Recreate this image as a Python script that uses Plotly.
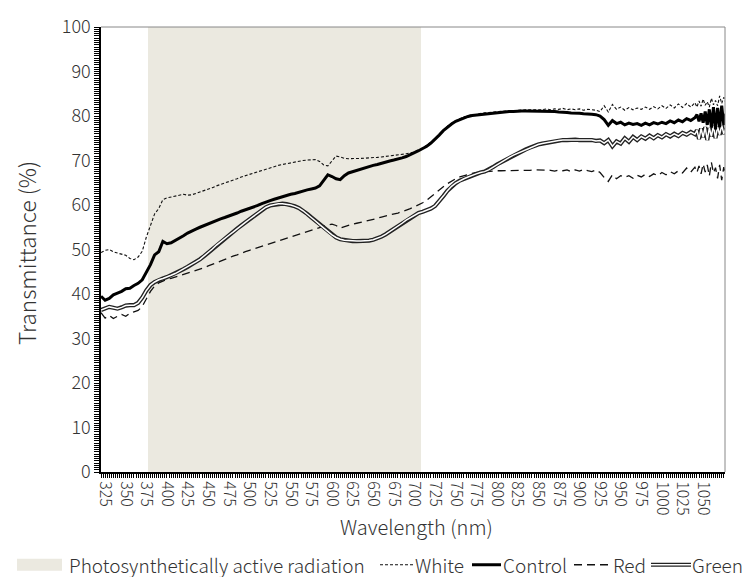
import plotly.graph_objects as go

# ---------------- data ----------------
wavelength = list(range(320, 1041, 5)) + [1042.5, 1045, 1047.5, 1050, 1052.5, 1055, 1057.5, 1060,
                                          1062.5, 1065, 1067.5, 1070, 1072.5, 1075, 1077.5]

control = [
    39.5, 38.6, 39.0, 39.8, 40.2, 40.6, 41.2, 41.3, 41.9, 42.4,   # 320-365
    43.2, 44.8, 46.6, 48.8, 49.5, 51.8, 51.3, 51.5, 52.0, 52.5,   # 370-415
    53.1, 53.7, 54.2, 54.6, 55.0, 55.4, 55.8, 56.2, 56.6, 56.9,   # 420-465
    57.2, 57.5, 57.9, 58.2, 58.6, 58.9, 59.3, 59.6, 59.9, 60.3,   # 470-515
    60.7, 61.0, 61.3, 61.6, 61.9, 62.1, 62.4, 62.6, 62.9, 63.1,   # 520-565
    63.4, 63.6, 63.8, 64.3, 65.6, 66.8, 66.4, 65.9, 65.7, 66.6,   # 570-615
    67.2, 67.5, 67.8, 68.1, 68.4, 68.6, 68.9, 69.1, 69.4, 69.6,   # 620-665
    69.9, 70.1, 70.3, 70.6, 70.9, 71.3, 71.7, 72.2, 72.7, 73.2,   # 670-715
    73.9, 74.7, 75.7, 76.7, 77.5, 78.2, 78.8, 79.2, 79.6, 79.9,   # 720-765
    80.1, 80.2, 80.4, 80.5, 80.6, 80.7, 80.7, 80.8, 80.9, 81.0,   # 770-815
    81.0, 81.1, 81.1, 81.1, 81.1, 81.1, 81.1, 81.1, 81.0, 81.0,   # 820-865
    81.0, 80.9, 80.9, 80.8, 80.7, 80.7, 80.6, 80.5, 80.5, 80.4,   # 870-915
    80.3, 80.0, 79.2, 77.9, 79.0, 78.3, 78.6, 78.0, 78.4, 78.1,   # 920-965
    78.3, 77.9, 78.4, 78.0, 78.5, 78.2, 78.6, 78.3, 78.9, 78.5,   # 970-1015
    79.1, 78.7, 79.4, 79.0, 79.6,                                 # 1020-1040
    80.3, 78.8, 80.6, 78.5, 81.0, 78.0, 81.5, 77.4, 82.0, 77.0, 81.8, 77.5, 82.3, 78.0, 80.5,
]

white = [
    49.3, 49.8, 50.0, 49.5, 49.2, 48.9, 48.7, 48.0, 47.7, 48.3,
    49.6, 52.8, 55.6, 58.0, 59.2, 61.2, 61.6, 61.8, 62.0, 62.2,
    62.4, 62.2, 62.3, 62.6, 62.9, 63.2, 63.5, 63.9, 64.3, 64.6,
    65.0, 65.3, 65.6, 65.9, 66.3, 66.6, 66.9, 67.2, 67.5, 67.8,
    68.1, 68.4, 68.6, 68.9, 69.1, 69.3, 69.5, 69.7, 69.9, 70.0,
    70.1, 70.2, 70.2, 69.8, 69.0, 68.8, 69.8, 71.0, 70.8, 70.5,
    70.4, 70.4, 70.4, 70.5, 70.5, 70.6, 70.6, 70.7, 70.8, 70.9,
    71.0, 71.1, 71.2, 71.4, 71.5, 71.7, 71.9, 72.3, 72.8, 73.5,
    74.2, 74.9, 75.9, 76.9, 77.7, 78.4, 79.0, 79.4, 79.8, 80.1,
    80.3, 80.4, 80.6, 80.7, 80.8, 80.9, 80.9, 81.0, 81.1, 81.2,
    81.2, 81.3, 81.3, 81.4, 81.4, 81.4, 81.5, 81.4, 81.6, 81.4,
    81.6, 81.5, 81.7, 81.4, 81.6, 81.4, 81.6, 81.3, 81.5, 81.4,
    81.3, 81.0, 82.3, 80.9, 82.6, 81.5, 82.0, 81.3, 81.9, 81.4,
    81.8, 81.5, 82.0, 81.5, 82.1, 81.6, 82.3, 81.7, 82.5, 81.8,
    82.7, 81.9, 82.8, 82.0, 83.0,
    82.0, 83.4, 82.2, 83.8, 82.4, 83.2, 82.0, 84.0, 82.5, 83.5, 82.3, 84.5, 82.8, 84.2, 83.0,
]

red = [
    35.8, 34.6, 35.2, 34.5, 35.0, 35.4, 35.0, 35.7, 36.0, 36.3,
    37.2, 38.8, 40.6, 41.8, 42.5, 42.9, 43.3, 43.5, 43.8, 44.0,
    44.3, 44.6, 44.9, 45.2, 45.6, 45.9, 46.3, 46.6, 47.0, 47.4,
    47.8, 48.1, 48.5, 48.8, 49.2, 49.5, 49.8, 50.1, 50.4, 50.7,
    51.0, 51.3, 51.6, 51.9, 52.3, 52.6, 52.9, 53.2, 53.5, 53.8,
    54.1, 54.4, 54.7, 54.9, 55.2, 55.5, 55.7, 55.4, 54.8, 55.1,
    55.5, 55.7, 55.9, 56.1, 56.3, 56.6, 56.8, 57.0, 57.3, 57.5,
    57.7, 58.0, 58.2, 58.5, 58.8, 59.2, 59.6, 60.0, 60.5, 61.1,
    61.9, 62.6, 63.4, 64.1, 64.8, 65.4, 65.9, 66.3, 66.6, 66.9,
    67.1, 67.3, 67.4, 67.5, 67.6, 67.6, 67.7, 67.7, 67.7, 67.8,
    67.8, 67.8, 67.8, 67.8, 67.8, 67.9, 67.9, 67.9, 67.8, 67.8,
    67.6, 67.9, 67.7, 67.9, 67.5, 67.9, 67.6, 68.0, 67.7, 67.5,
    67.9, 67.3, 66.2, 65.3, 66.8, 65.9, 66.6, 66.2, 66.6, 66.0,
    66.7, 66.3, 66.9, 66.4, 67.0, 66.6, 67.3, 66.8, 67.5, 67.0,
    67.7, 67.2, 68.3, 67.4, 68.5,
    67.3, 68.8, 67.0, 69.2, 67.4, 69.0, 66.5, 69.6, 67.2, 68.4, 66.0, 69.0, 65.6, 68.5, 66.5,
]

green = [
    36.4, 36.8, 37.1, 36.9, 36.7, 37.0, 37.4, 37.5, 37.5, 38.0,
    39.2, 40.8, 42.0, 42.7, 43.2, 43.5, 43.8, 44.2, 44.6, 45.1,
    45.6, 46.1, 46.6, 47.2, 47.8, 48.5, 49.3, 50.1, 51.0, 51.8,
    52.5, 53.2, 53.9, 54.7, 55.4, 56.1, 56.8, 57.5, 58.2, 58.9,
    59.5, 59.9, 60.1, 60.3, 60.3, 60.2, 60.0, 59.7, 59.3, 58.7,
    58.0, 57.2, 56.4, 55.6, 54.8, 54.0, 53.3, 52.7, 52.3, 52.1,
    52.0, 51.9, 51.9, 51.9, 51.9, 52.0, 52.2, 52.5, 52.9, 53.4,
    54.0, 54.6, 55.3, 55.9, 56.6, 57.2, 57.8, 58.2, 58.5, 58.8,
    59.2, 59.8, 60.8, 62.0, 63.2, 64.2, 64.9, 65.5, 65.9, 66.3,
    66.7, 67.0, 67.3, 67.5, 67.9, 68.5, 69.1, 69.6, 70.2, 70.7,
    71.2, 71.6, 72.1, 72.5, 72.9, 73.3, 73.6, 73.8, 74.0, 74.2,
    74.4, 74.5, 74.6, 74.6, 74.7, 74.7, 74.6, 74.7, 74.6, 74.6,
    74.4, 74.5, 73.9, 74.6, 73.2, 74.3, 73.8, 75.0, 74.2, 75.3,
    74.6, 75.4, 74.9, 75.6, 75.0, 75.7, 75.2, 75.9, 75.4, 76.0,
    75.5, 76.2, 75.8, 76.4, 75.9,
    76.8, 74.8, 77.2, 75.2, 77.5, 74.6, 77.3, 75.4, 77.8, 75.0, 77.6, 75.8, 77.9, 76.0, 77.2,
]

par_band = [377, 708]          # shaded photosynthetically active radiation band (nm)
x_ticks = list(range(325, 1051, 25))
y_ticks = list(range(0, 101, 10))

FONT = "Noto Sans CJK KR, Noto Sans, sans-serif"
WEIGHT = 300
TXT = "#333333"
PAR_COLOR = "#ebe9e0"

# ---------------- figure ----------------
W, H = 744, 577
L, R, T, B = 101, 19, 21, 105

fig = go.Figure()

fig.add_shape(type="rect", xref="x", yref="y", x0=par_band[0], x1=par_band[1], y0=0, y1=100,
              fillcolor=PAR_COLOR, line_width=0, layer="below")

fig.add_trace(go.Scatter(x=wavelength, y=red, mode="lines",
                         line=dict(color="#111", width=1.3, dash="8px,5px"), name="Red"))
fig.add_trace(go.Scatter(x=wavelength, y=green, mode="lines",
                         line=dict(color="#222", width=4.2), name="Green"))
fig.add_trace(go.Scatter(x=wavelength, y=green, mode="lines",
                         line=dict(color="#ffffff", width=1.5), name="Green inner"))
fig.add_trace(go.Scatter(x=wavelength, y=white, mode="lines",
                         line=dict(color="#111", width=1.1, dash="3px,2px"), name="White"))
fig.add_trace(go.Scatter(x=wavelength, y=control, mode="lines",
                         line=dict(color="#000", width=3), name="Control"))

tick_font_x = dict(size=16, color=TXT, family=FONT, weight=WEIGHT)
tick_font_y = dict(size=18, color=TXT, family=FONT, weight=WEIGHT)

fig.update_layout(
    width=W, height=H, margin=dict(l=L, r=R, t=T, b=B),
    paper_bgcolor="white", plot_bgcolor="white", showlegend=False,
    font=dict(family=FONT, color=TXT, weight=WEIGHT),
    xaxis=dict(range=[320, 1076.5], tickmode="array", tickvals=x_ticks,
               ticktext=[str(v) for v in x_ticks], tickangle=90,
               ticks="outside", ticklen=4, tickcolor="black", tickwidth=1,
               showline=True, linecolor="black", linewidth=2, mirror=False,
               showgrid=False, zeroline=False, tickfont=tick_font_x,
               minor=dict(dtick=2.5, tick0=320, ticks="outside", ticklen=4, tickcolor="black",
                          tickwidth=1, showgrid=False)),
    yaxis=dict(range=[0, 100], tickmode="array", tickvals=y_ticks,
               ticktext=[str(v) for v in y_ticks],
               ticks="outside", ticklen=5, tickcolor="black", tickwidth=1,
               showline=True, linecolor="black", linewidth=1.5, mirror=False,
               showgrid=False, zeroline=False, tickfont=tick_font_y,
               minor=dict(dtick=0.5, tick0=0, ticks="outside", ticklen=5, tickcolor="black",
                          tickwidth=1, showgrid=False)),
)

# plot frame (top/right) in gray
fig.add_shape(type="line", xref="paper", yref="paper", x0=0, x1=1, y0=1, y1=1,
              line=dict(color="#888888", width=1))
fig.add_shape(type="line", xref="paper", yref="paper", x0=1, x1=1, y0=0, y1=1,
              line=dict(color="#888888", width=1))

pw, ph = W - L - R, H - T - B


def px(xp):
    return (xp - L) / pw


def py(yp):
    return (H - B - yp) / ph


# axis titles
fig.add_annotation(text="Wavelength (nm)", xref="paper", yref="paper", x=px(416), y=py(527),
                   showarrow=False, font=dict(size=20, color=TXT, family=FONT, weight=WEIGHT),
                   xanchor="center", yanchor="middle")
fig.add_annotation(text="Transmittance (%)", xref="paper", yref="paper", x=px(26), y=py(250),
                   showarrow=False, textangle=-90,
                   font=dict(size=22.5, color=TXT, family=FONT, weight=WEIGHT),
                   xanchor="center", yanchor="middle")

# manual legend
LY = 566
leg_font = dict(size=19, color=TXT, family=FONT, weight=WEIGHT)


def leg_text(txt, x):
    fig.add_annotation(text=txt, xref="paper", yref="paper", x=px(x), y=py(LY), showarrow=False,
                       xanchor="left", yanchor="middle", font=leg_font)


def leg_line(x0, x1, **line):
    fig.add_shape(type="line", xref="paper", yref="paper", x0=px(x0), x1=px(x1),
                  y0=py(LY), y1=py(LY), line=line)


fig.add_shape(type="rect", xref="paper", yref="paper", x0=px(17), x1=px(62), y0=py(572), y1=py(560),
              fillcolor=PAR_COLOR, line_width=0)
leg_text("Photosynthetically active radiation", 67)

leg_line(380, 414, color="#111", width=1.1, dash="3px,2px")
leg_text("White", 413)

leg_line(472, 501, color="#000", width=3)
leg_text("Control", 501)

leg_line(574, 611, color="#111", width=1.3, dash="8px,5px")
leg_text("Red", 611)

leg_line(651, 691, color="#222", width=4.2)
leg_line(651, 691, color="#ffffff", width=1.5)
leg_text("Green", 690)

fig.write_html("out.html")
